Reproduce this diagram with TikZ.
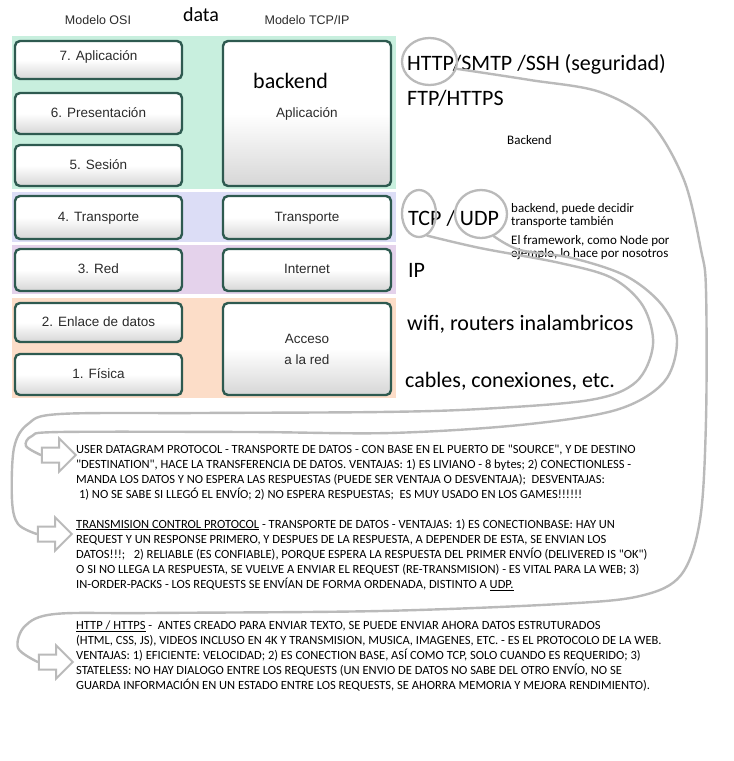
\documentclass[tikz,border=0pt]{standalone}
\usepackage{fontspec}
\setmainfont{Carlito}
\newfontfamily\arialf{Liberation Sans}
\usetikzlibrary{shapes.geometric,shapes.arrows}
\definecolor{boxline}{HTML}{2E5A50}
\definecolor{bandapp}{HTML}{C8EFDE}
\definecolor{bandtr}{HTML}{DCDDF6}
\definecolor{bandred}{HTML}{E4D2EB}
\definecolor{bandlink}{HTML}{FCDDC8}
\definecolor{pen}{HTML}{BABABA}
\definecolor{labtext}{HTML}{2B2B2B}
\newcommand\dq{\textquotedbl}
\begin{document}
\begin{tikzpicture}[x=1pt,y=-1pt,
  layerbox/.style={draw=boxline, line width=2.4pt, rounded corners=5pt,
    top color=white, bottom color=black!16, middle color=white,
    font=\arialf\fontsize{13.5}{21}\selectfont, text=labtext, align=center,
    inner sep=0pt},
  osibox/.style={layerbox, minimum width=167pt, text height=10pt, text depth=3pt},
  tcpbox/.style={layerbox, minimum width=168pt, text height=10pt, text depth=3pt},
  hand/.style={draw=pen, line width=2.4pt, line cap=round, line join=round},
  ring/.style={ellipse, draw=pen, line width=2.3pt, inner sep=0pt},
  hollowarrow/.style={single arrow, draw=pen, line width=2pt, fill=white,
    inner sep=6.5pt, minimum height=34pt, single arrow head extend=9pt},
  note/.style={anchor=base west, inner sep=0pt, font=\fontsize{22}{26}\selectfont},
  small/.style={anchor=base west, inner sep=0pt, font=\fontsize{13}{13}\selectfont},
  block/.style={anchor=north west, inner sep=0pt, align=left, font=\fontsize{12.5}{15}\selectfont},
  head/.style={anchor=base, inner sep=0pt, font=\arialf\fontsize{12.5}{14}\selectfont, text=labtext}
]
\useasboundingbox (0,0) rectangle (734,761);
\fill[white] (0,0) rectangle (734,761);

% coloured bands
\fill[bandapp] (12,36) rectangle (396,189);
\fill[bandtr] (12,192) rectangle (396,242);
\fill[bandred] (12,245) rectangle (396,294);
\fill[bandlink] (12,298) rectangle (396,398);

% headers
\node[head] (hosi) at (98,24) {Modelo OSI};
\node[head] (htcp) at (307,24) {Modelo TCP/IP};
\node[anchor=base, inner sep=0pt, font=\fontsize{20}{24}\selectfont] (data) at (201,21) {data};

% OSI layers
\node[osibox, minimum height=38pt, text depth=10pt] (osi7) at (98.5,60) {7. Aplicación};
\node[osibox, minimum height=41pt] (osi6) at (98.5,113.5) {6. Presentación};
\node[osibox, minimum height=41pt] (osi5) at (98.5,165.5) {5. Sesión};
\node[osibox, minimum height=43pt] (osi4) at (98.5,217.5) {4. Transporte};
\node[osibox, minimum height=42pt] (osi3) at (98.5,270) {3. Red};
\node[osibox, minimum height=39pt] (osi2) at (98.5,322.5) {2. Enlace de datos};
\node[osibox, minimum height=41pt] (osi1) at (98.5,374.5) {1. Física};

% TCP/IP layers
\node[tcpbox, minimum height=145pt] (tapp) at (307,113.5) {Aplicación};
\node[tcpbox, minimum height=43pt] (ttr) at (307,217.5) {Transporte};
\node[tcpbox, minimum height=42pt] (tnet) at (307,270) {Internet};
\node[layerbox, minimum width=168pt, minimum height=92pt] (tacc) at (307,349) {Acceso\\a la red};
\node[anchor=base west, inner sep=0pt, font=\fontsize{22}{26}\selectfont] (bk) at (253,88) {backend};

% annotations
\node[note] (httpline) at (407,70) {HTTP/SMTP /SSH (seguridad)};
\node[note] (ftpline) at (407,105) {FTP/HTTPS};
\node[small] (bk2) at (507,144) {Backend};
\node[note] (tcpudp) at (408,225) {TCP / UDP};
\node[small] (n1) at (511,212) {backend, puede decidir};
\node[small] (n2) at (511,225) {transporte también};
\node[small] (n3) at (511,244) {El framework, como Node por};
\node[small] (n4) at (511,257) {ejemplo, lo hace por nosotros};
\node[note] (ipline) at (408,277) {IP};
\node[note] (wifiline) at (407,330) {wifi, routers inalambricos};
\node[note] (cableline) at (405,387) {cables, conexiones, etc.};

% rings
\node[ring, minimum width=55pt, minimum height=47pt] (httpc) at (429.5,61.5) {};
\node[ring, minimum width=34pt, minimum height=47pt] (tcpc) at (419,213.5) {};
\node[ring, minimum width=52pt, minimum height=48pt] (udpc) at (481,214) {};

% hollow arrows
\node[hollowarrow] (udparrow) at (55,455) {};
\node[hollowarrow] (tcparrow) at (51,534) {};
\node[hollowarrow] (httparrow) at (52,662) {};

% text blocks
\node[block] (udptext) at (76,442.5) {\strut USER DATAGRAM PROTOCOL - TRANSPORTE DE DATOS - CON BASE EN EL PUERTO DE \dq SOURCE\dq, Y DE DESTINO\\
\dq DESTINATION\dq, HACE LA TRANSFERENCIA DE DATOS. VENTAJAS: 1) ES LIVIANO - 8 bytes; 2) CONECTIONLESS -\\
MANDA LOS DATOS Y NO ESPERA LAS RESPUESTAS (PUEDE SER VENTAJA O DESVENTAJA);\ \ DESVENTAJAS:\\
\ 1) NO SE SABE SI LLEGÓ EL ENVÍO; 2) NO ESPERA RESPUESTAS;\ \ ES MUY USADO EN LOS GAMES!!!!!!};

\node[block] (tcptext) at (76,517.5) {\strut\underline{TRANSMISION CONTROL PROTOCOL} - TRANSPORTE DE DATOS - VENTAJAS: 1) ES CONECTIONBASE: HAY UN\\
REQUEST Y UN RESPONSE PRIMERO, Y DESPUES DE LA RESPUESTA, A DEPENDER DE ESTA, SE ENVIAN LOS\\
DATOS!!!;\ \ \ 2) RELIABLE (ES CONFIABLE), PORQUE ESPERA LA RESPUESTA DEL PRIMER ENVÍO (DELIVERED IS \dq OK\dq)\\
O SI NO LLEGA LA RESPUESTA, SE VUELVE A ENVIAR EL REQUEST (RE-TRANSMISION) - ES VITAL PARA LA WEB; 3)\\
IN-ORDER-PACKS - LOS REQUESTS SE ENVÍAN DE FORMA ORDENADA, DISTINTO A \underline{UDP.}};

\node[block] (httptext) at (76,618.5) {\strut\underline{HTTP / HTTPS} -\ \ ANTES CREADO PARA ENVIAR TEXTO, SE PUEDE ENVIAR AHORA DATOS ESTRUTURADOS\\
(HTML, CSS, JS), VIDEOS INCLUSO EN 4K Y TRANSMISION, MUSICA, IMAGENES, ETC. - ES EL PROTOCOLO DE LA WEB.\\
VENTAJAS: 1) EFICIENTE: VELOCIDAD; 2) ES CONECTION BASE, ASÍ COMO TCP, SOLO CUANDO ES REQUERIDO; 3)\\
STATELESS: NO HAY DIALOGO ENTRE LOS REQUESTS (UN ENVIO DE DATOS NO SABE DEL OTRO ENVÍO, NO SE\\
GUARDA INFORMACIÓN EN UN ESTADO ENTRE LOS REQUESTS, SE AHORRA MEMORIA Y MEJORA RENDIMIENTO).};

% hand-drawn connectors
\draw[hand] plot[smooth, tension=0.55] coordinates {(httpc.-15) (530,80) (600,92) (650,122) (684,180) (701,250) (706,290) (706,420) (700,520) (681,575) (640,596) (560,604) (380,611) (150,613) (55,614) (25,626) (18,648) (httparrow.west)};
\draw[hand] plot[smooth, tension=0.55] coordinates {(tcpc.-70) (480,248) (560,263) (612,278) (643,306) (653,345) (636,382) (590,400) (480,409) (380,412) (200,413) (60,414) (28,424) (14,448) (12,500) (18,524) (tcparrow.west)};
\draw[hand] plot[smooth, tension=0.55] coordinates {(udpc.-60) (520,250) (572,258) (626,276) (662,305) (677,340) (664,382) (616,410) (520,425) (390,433) (250,432) (60,432) (32,436) (26,446) (udparrow.west)};

\end{tikzpicture}
\end{document}
